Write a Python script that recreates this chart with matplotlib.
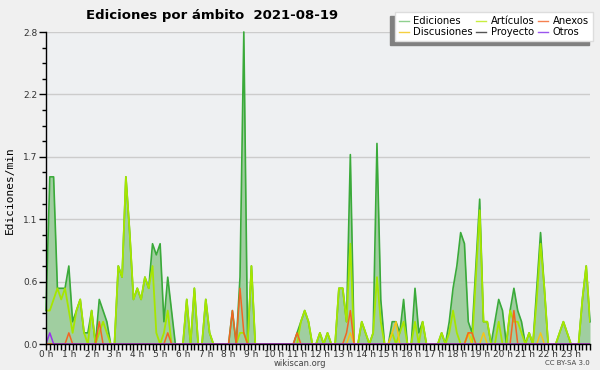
import matplotlib
matplotlib.use("Agg")
import matplotlib.pyplot as plt
import numpy as np
from matplotlib.lines import Line2D

title = "Ediciones por ámbito  2021-08-19"
hour_labels = [f"{h} h" for h in range(24)]
ytick_vals = [0.0, 0.56, 1.12, 1.68, 2.24, 2.8]
ytick_labels = ["0.0", "0.6", "1.1", "1.7", "2.2", "2.8"]

# one value every 10 minutes, six per row = one hour per row
ediciones = [
    0.3, 1.5, 1.5, 0.5, 0.5, 0.5,
    0.7, 0.2, 0.3, 0.4, 0.1, 0.1,
    0.3, 0.0, 0.4, 0.3, 0.2, 0.0,
    0.0, 0.7, 0.6, 1.5, 1.0, 0.4,
    0.5, 0.4, 0.6, 0.5, 0.9, 0.8,
    0.9, 0.2, 0.6, 0.3, 0.0, 0.0,
    0.0, 0.4, 0.0, 0.5, 0.0, 0.0,
    0.4, 0.1, 0.0, 0.0, 0.0, 0.0,
    0.0, 0.3, 0.0, 0.6, 2.8, 0.0,
    0.7, 0.0, 0.0, 0.0, 0.0, 0.0,
    0.0, 0.0, 0.0, 0.0, 0.0, 0.0,
    0.1, 0.2, 0.3, 0.2, 0.0, 0.0,
    0.1, 0.0, 0.1, 0.0, 0.0, 0.5,
    0.5, 0.2, 1.7, 0.0, 0.0, 0.2,
    0.1, 0.0, 0.1, 1.8, 0.4, 0.0,
    0.0, 0.2, 0.2, 0.1, 0.4, 0.0,
    0.0, 0.5, 0.1, 0.2, 0.0, 0.0,
    0.0, 0.0, 0.1, 0.0, 0.2, 0.5,
    0.7, 1.0, 0.9, 0.2, 0.1, 0.7,
    1.3, 0.2, 0.2, 0.0, 0.2, 0.4,
    0.3, 0.0, 0.3, 0.5, 0.3, 0.2,
    0.0, 0.1, 0.0, 0.5, 1.0, 0.5,
    0.0, 0.0, 0.0, 0.1, 0.2, 0.1,
    0.0, 0.0, 0.0, 0.4, 0.7, 0.2,
]

articulos = [
    0.3, 0.3, 0.4, 0.5, 0.4, 0.5,
    0.3, 0.1, 0.3, 0.4, 0.1, 0.0,
    0.3, 0.0, 0.1, 0.2, 0.1, 0.0,
    0.0, 0.7, 0.6, 1.5, 1.0, 0.4,
    0.5, 0.4, 0.6, 0.5, 0.7, 0.1,
    0.0, 0.1, 0.3, 0.0, 0.0, 0.0,
    0.0, 0.4, 0.0, 0.5, 0.0, 0.0,
    0.4, 0.1, 0.0, 0.0, 0.0, 0.0,
    0.0, 0.0, 0.0, 0.1, 0.1, 0.0,
    0.7, 0.0, 0.0, 0.0, 0.0, 0.0,
    0.0, 0.0, 0.0, 0.0, 0.0, 0.0,
    0.0, 0.2, 0.3, 0.2, 0.0, 0.0,
    0.1, 0.0, 0.1, 0.0, 0.0, 0.5,
    0.5, 0.2, 0.9, 0.0, 0.0, 0.2,
    0.1, 0.0, 0.1, 0.6, 0.2, 0.0,
    0.0, 0.1, 0.0, 0.1, 0.2, 0.0,
    0.0, 0.2, 0.0, 0.2, 0.0, 0.0,
    0.0, 0.0, 0.1, 0.0, 0.1, 0.3,
    0.1, 0.0, 0.0, 0.1, 0.0, 0.6,
    1.2, 0.2, 0.2, 0.0, 0.0, 0.2,
    0.0, 0.0, 0.3, 0.2, 0.2, 0.1,
    0.0, 0.1, 0.0, 0.4, 0.9, 0.5,
    0.0, 0.0, 0.0, 0.1, 0.2, 0.1,
    0.0, 0.0, 0.0, 0.4, 0.7, 0.2,
]

anexos = [0.0] * 144
for i, v in [(6, 0.1), (14, 0.2), (32, 0.1), (49, 0.3), (51, 0.5), (52, 0.1),
             (66, 0.1), (79, 0.1), (80, 0.3), (111, 0.1), (112, 0.1), (123, 0.3)]:
    anexos[i] = v

discusiones = [0.0] * 144
for i, v in [(80, 0.1), (91, 0.1), (92, 0.2), (111, 0.1), (115, 0.1), (130, 0.1)]:
    discusiones[i] = v

proyecto = [0.0] * 144

otros = [0.0] * 144
otros[1] = 0.1

x = np.arange(144) / 6.0

fig = plt.figure(figsize=(6, 3.7), dpi=100, facecolor="#f0f0f0")
ax = fig.add_axes([46 / 600, 1 - 344 / 370, (590 - 46) / 600, (344 - 32) / 370])
ax.set_facecolor("#eef0f2")

ax.fill_between(x, ediciones, 0, color="#a0cea0", lw=0, zorder=1)
ax.plot(x, ediciones, color="#3aaa3a", lw=1.2, zorder=3, clip_on=False)
ax.plot(x, articulos, color="#a6e600", lw=1.3, zorder=4)
ax.plot(x, discusiones, color="#f5c518", lw=1.1, zorder=5)
ax.plot(x, proyecto, color="#555555", lw=1.0, zorder=5)
ax.plot(x, anexos, color="#f26522", lw=1.1, zorder=6)
ax.plot(x, otros, color="#9933ee", lw=1.1, zorder=6)

ax.set_xlim(0, 143 / 6)
ax.set_ylim(0, 2.8)

ax.set_xticks(range(24))
ax.set_xticklabels(hour_labels)
ax.set_xticks(np.arange(0, 144) / 6, minor=True)
ax.set_yticks(ytick_vals)
ax.set_yticklabels(ytick_labels)
ax.set_yticks(np.arange(0, 2.81, 0.14), minor=True)

ax.tick_params(axis="x", which="both", direction="out", length=4, width=1,
               labelsize=6.5, pad=0, colors="#000000", labelcolor="#333333")
ax.tick_params(axis="y", which="major", direction="out", length=5, width=1,
               labelsize=6.5, pad=1, labelcolor="#333333")
ax.tick_params(axis="y", which="minor", direction="out", length=3, width=1)

ax.grid(axis="y", which="major", color="#cccccc", lw=1)
ax.set_axisbelow(True)
for s in ["top", "right"]:
    ax.spines[s].set_visible(False)
for s in ["left", "bottom"]:
    ax.spines[s].set_color("black")
    ax.spines[s].set_linewidth(1)
    ax.spines[s].set_zorder(7)

fig.text(86 / 600, 1 - 15 / 370, title, fontsize=9.5, fontweight="bold",
         va="center", ha="left")
fig.text(10 / 600, 1 - 190 / 370, "Ediciones/min", rotation=90,
         family="DejaVu Sans Mono", fontsize=8, va="center", ha="center")
fig.text(300 / 600, 1 - 363.5 / 370, "wikiscan.org", fontsize=6,
         color="#444444", ha="center", va="center")
fig.text(590 / 600, 1 - 363 / 370, "CC BY-SA 3.0", fontsize=5,
         color="#444444", ha="right", va="center")

handles = [
    Line2D([], [], color="#8fd08f", lw=1),
    Line2D([], [], color="#f5d040", lw=1),
    Line2D([], [], color="#c8ee40", lw=1),
    Line2D([], [], color="#555555", lw=1),
    Line2D([], [], color="#f58050", lw=1),
    Line2D([], [], color="#9a55ee", lw=1),
]
labels = ["Ediciones", "Discusiones", "Artículos", "Proyecto", "Anexos", "Otros"]
leg = fig.legend(handles, labels, loc="upper right",
                 bbox_to_anchor=(593 / 600, 1 - 12 / 370), ncol=3,
                 fontsize=7.2, frameon=True, fancybox=False,
                 edgecolor="#dddddd", framealpha=1, borderpad=0.4,
                 labelspacing=0.1, handlelength=1.0, handletextpad=0.5,
                 columnspacing=0.3, borderaxespad=0,
                 shadow={"ox": -3, "oy": -3, "shade": 0.5, "alpha": 1})

fig.savefig("out.png", dpi=100, facecolor=fig.get_facecolor())
